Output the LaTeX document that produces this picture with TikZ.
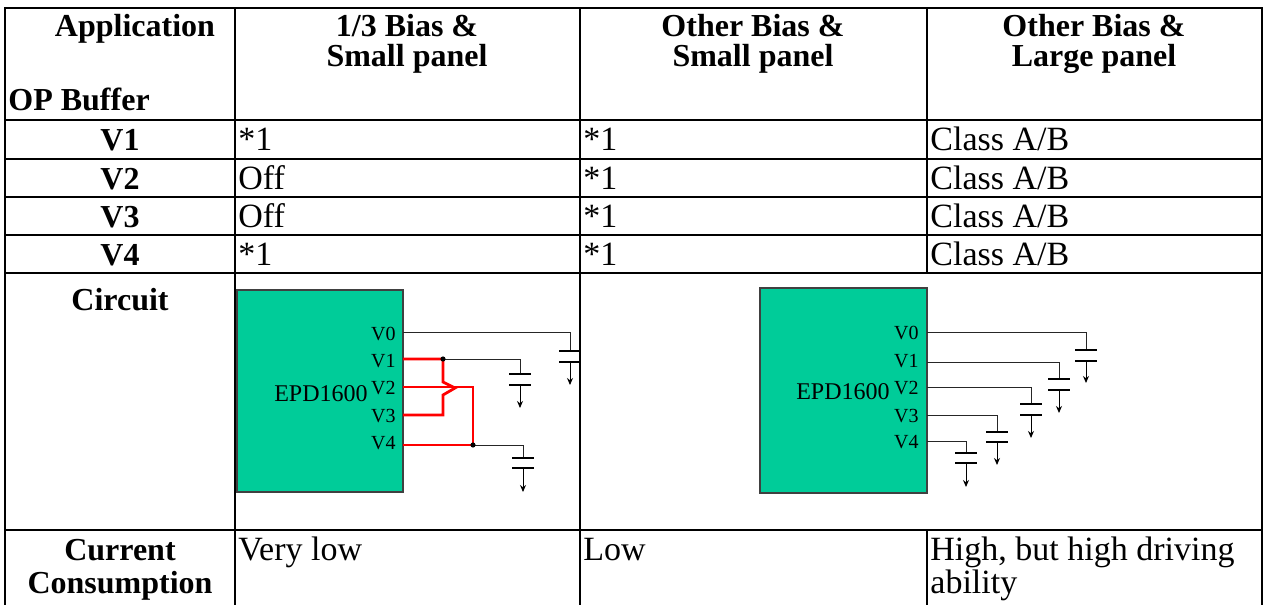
\documentclass[tikz,border=0pt]{standalone}
\usepackage{fontspec}
\setmainfont{Liberation Serif}
\usetikzlibrary{arrows.meta}
\definecolor{chipgreen}{RGB}{0,204,153}
\newcommand\capgnd[4]{%
  \draw[plate] (#1-11,#2) -- (#1+11,#2);
  \draw[plate] (#1-11,#3) -- (#1+11,#3);
  \draw[gnd] (#1,#3) -- (#1,#4);}
\begin{document}
\begin{tikzpicture}[x=0.5pt,y=-0.5pt,
  grid/.style={line width=1.2pt,black,line cap=rect},
  hdr/.style={font=\fontsize{16}{19}\selectfont\bfseries,inner sep=0pt,anchor=base},
  cell/.style={font=\fontsize{17}{20}\selectfont,inner sep=0pt,anchor=base west},
  chip/.style={draw=black!75,fill=chipgreen,line width=0.6pt},
  pin/.style={font=\fontsize{10}{12}\selectfont,inner sep=0pt,anchor=base east},
  chipname/.style={font=\fontsize{12}{14}\selectfont,inner sep=0pt,anchor=base east},
  wire/.style={line width=0.5pt,black!85},
  redwire/.style={line width=1.4pt,red,line join=miter},
  plate/.style={line width=0.7pt,black},
  gnd/.style={line width=0.5pt,-{Stealth[length=3.5pt,width=3pt]}},
  dotn/.style={circle,fill=black,inner sep=0pt,minimum size=2.6pt}
]
\useasboundingbox (0,0) rectangle (1266,605);

% ---------- grid ----------
\foreach \yy in {8,120,159,197,235,273,530}
  \draw[grid] (5,\yy) -- (1262,\yy);
\foreach \xx in {5,235,580,1262}
  \draw[grid] (\xx,8) -- (\xx,605);
\draw[grid] (927,8) -- (927,273);
\draw[grid] (927,530) -- (927,605);

% ---------- header ----------
\node[hdr] (happ) at (135,36) {Application};
\node[hdr,anchor=base west] (hop) at (8,111) {OP Buffer};
\node[hdr] (h2a) at (407,36) {1/3 Bias \&};
\node[hdr] (h2b) at (407,67) {Small panel};
\node[hdr] (h3a) at (753,36) {Other Bias \&};
\node[hdr] (h3b) at (753,67) {Small panel};
\node[hdr] (h4a) at (1094,36) {Other Bias \&};
\node[hdr] (h4b) at (1094,67) {Large panel};

% ---------- rows ----------
\node[hdr] (r1) at (120,150) {V1};
\node[hdr] (r2) at (120,189) {V2};
\node[hdr] (r3) at (120,227) {V3};
\node[hdr] (r4) at (120,265) {V4};
\node[cell] (c12) at (238,150) {*1};
\node[cell] (c22) at (238,189) {Off};
\node[cell] (c32) at (238,227) {Off};
\node[cell] (c42) at (238,265) {*1};
\node[cell] (c13) at (583,150) {*1};
\node[cell] (c23) at (583,189) {*1};
\node[cell] (c33) at (583,227) {*1};
\node[cell] (c43) at (583,265) {*1};
\node[cell] (c14) at (930,150) {Class A/B};
\node[cell] (c24) at (930,189) {Class A/B};
\node[cell] (c34) at (930,227) {Class A/B};
\node[cell] (c44) at (930,265) {Class A/B};
\node[hdr] (rc) at (120,310) {Circuit};
\node[hdr] (cur1) at (120,560) {Current};
\node[hdr] (cur2) at (120,593) {Consumption};
\node[cell] (v2) at (238,560) {Very low};
\node[cell] (v3) at (583,560) {Low};
\node[cell] (v4a) at (930,560) {High, but high driving};
\node[cell] (v4b) at (930,593) {ability};

% ---------- circuit 1 ----------
\draw[chip] (237,290) rectangle (403,492);
\node[chipname] (n1) at (368,401) {EPD1600};
\node[pin] (p10) at (396,340) {V0};
\node[pin] (p11) at (396,367) {V1};
\node[pin] (p12) at (396,394) {V2};
\node[pin] (p13) at (396,422) {V3};
\node[pin] (p14) at (396,449) {V4};
\coordinate (a0) at (403,332);
\coordinate (a1) at (403,359);
\coordinate (a2) at (403,387);
\coordinate (a3) at (403,415);
\coordinate (a4) at (403,445);
\coordinate (j1) at (443,359);
\coordinate (j4) at (473,445);
\draw[wire] (a0) -- (570,332) -- (570,351);
\capgnd{570}{351}{362}{385}
\draw[wire] (j1) -- (520,359) -- (520,374);
\capgnd{520}{374}{385}{408}
\draw[wire] (j4) -- (523,445) -- (523,458);
\capgnd{523}{458}{468}{492}
\draw[redwire] (a1) -- (j1) -- (443,382) -- (455,388) -- (443,395) -- (443,415) -- (a3);
\draw[redwire] (a2) -- (473,387) -- (j4) -- (a4);
\node[dotn] (d1) at (j1) {};
\node[dotn] (d4) at (j4) {};

% ---------- circuit 2 ----------
\draw[chip] (760,288) rectangle (927,493);
\node[chipname] (n2) at (890,399) {EPD1600};
\node[pin] (p20) at (919,339) {V0};
\node[pin] (p21) at (919,367) {V1};
\node[pin] (p22) at (919,394) {V2};
\node[pin] (p23) at (919,422) {V3};
\node[pin] (p24) at (919,448) {V4};
\coordinate (b0) at (927,332);
\coordinate (b1) at (927,362);
\coordinate (b2) at (927,387);
\coordinate (b3) at (927,415);
\coordinate (b4) at (927,441);
\draw[wire] (b0) -- (1086,332) -- (1086,350);
\capgnd{1086}{350}{361}{383}
\draw[wire] (b1) -- (1059,362) -- (1059,379);
\capgnd{1059}{379}{390}{413}
\draw[wire] (b2) -- (1031,387) -- (1031,404);
\capgnd{1031}{404}{415}{438}
\draw[wire] (b3) -- (997,415) -- (997,432);
\capgnd{997}{432}{442}{465}
\draw[wire] (b4) -- (966,441) -- (966,453);
\capgnd{966}{453}{463}{487}
\end{tikzpicture}
\end{document}
